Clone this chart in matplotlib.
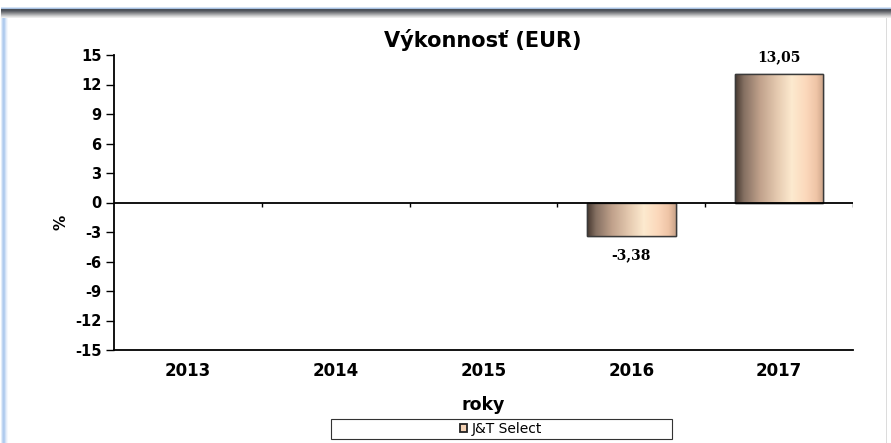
import numpy as np
import matplotlib
matplotlib.use('Agg')
from matplotlib import pyplot as plt
from matplotlib.colors import LinearSegmentedColormap
from matplotlib.patches import Rectangle

years = ['2013', '2014', '2015', '2016', '2017']
values = [np.nan, np.nan, np.nan, -3.38, 13.05]
value_labels = ['', '', '', '-3,38', '13,05']
y_ticks = [15, 12, 9, 6, 3, 0, -3, -6, -9, -12, -15]
series_name = 'J&T Select'

W, H = 891, 443
fig = plt.figure(figsize=(W / 100, H / 100), dpi=100)
fig.patch.set_facecolor('white')

# window frame: blue glow on the left, grey bar on the top
for i, c in enumerate(['#e3edf9', '#c2d7f2', '#b0cbee', '#b6cfef', '#cfe0f6', '#e6eefa', '#f5f8fd']):
    fig.patches.append(Rectangle((i + 1, 0), 1, H - 9, transform=None,
                                 facecolor=c, edgecolor='none'))
fig.patches.append(Rectangle((W - 5, 0), 1, H - 9, transform=None,
                             facecolor='#dcdcdc', edgecolor='none'))
for i, c in enumerate(['#d6e4f5', '#a9c2e2', '#4b5058', '#50545b', '#63666c',
                       '#7a7c80', '#929396', '#aaabad', '#c3c4c5', '#dadada',
                       '#ececec']):
    fig.patches.append(Rectangle((1, H - 8 - i), W, 1, transform=None,
                                 facecolor=c, edgecolor='none'))

ax = fig.add_axes([114 / W, 93 / H, (853 - 114) / W, (350 - 55) / H])
ax.set_facecolor('none')

x = np.arange(len(years))
bars = ax.bar(x, values, width=0.6, color='#f4d2b4', edgecolor='#3a3a3a',
              linewidth=1.0, zorder=2)

# horizontal shading of the bars
shade = LinearSegmentedColormap.from_list('shade', [
    (0.0, '#45372f'), (0.1, '#857062'), (0.28, '#c0a18b'), (0.48, '#e6cbb1'),
    (0.64, '#fdeacf'), (0.8, '#fbd8bb'), (0.92, '#efc4a6'), (1.0, '#c9a389')])
grad = np.linspace(0, 1, 256).reshape(1, -1)
for b in bars:
    h = b.get_height()
    if np.isnan(h):
        continue
    x0, w = b.get_x(), b.get_width()
    im = ax.imshow(grad, cmap=shade, aspect='auto', zorder=2.5,
                   extent=(x0, x0 + w, min(0, h), max(0, h)))
    im.set_clip_path(b)
    edge = Rectangle((x0, min(0, h)), w, abs(h), facecolor='none',
                     edgecolor='#3a3a3a', linewidth=1.0, zorder=3)
    ax.add_patch(edge)

for xi, v, lab in zip(x, values, value_labels):
    if np.isnan(v):
        continue
    off = 1.0 if v > 0 else -1.25
    ax.text(xi, v + off, lab, ha='center', va='bottom' if v > 0 else 'top',
            fontsize=10, fontweight='bold', family='DejaVu Serif')

ax.set_xlim(-0.5, len(years) - 0.5)
ax.set_ylim(-15, 15)
ax.set_yticks(y_ticks)
ax.set_yticklabels([str(t) for t in y_ticks], fontsize=10.5, fontweight='bold',
                   family='DejaVu Sans')
ax.tick_params(axis='y', direction='out', length=6, width=1, pad=3)
ax.set_xticks(x)
ax.set_xticklabels(years, fontsize=12, fontweight='bold', family='DejaVu Sans')
ax.tick_params(axis='x', length=0, pad=9)

ax.axhline(0, color='black', linewidth=1.3, zorder=4)
ax.vlines(np.arange(len(years)) + 0.5, -0.45, 0, color='black', linewidth=1,
          zorder=4)

for s in ['top', 'right']:
    ax.spines[s].set_visible(False)
ax.spines['left'].set_linewidth(1.3)
ax.spines['bottom'].set_linewidth(1.3)

ax.set_ylabel('%', fontsize=11, fontweight='bold', family='DejaVu Sans')
ax.yaxis.set_label_coords((69 - 114) / (853 - 114), (350 - 222) / (350 - 55))
ax.set_xlabel('roky', fontsize=12.5, fontweight='bold', family='DejaVu Sans')
ax.xaxis.set_label_coords(0.5, (350 - 396) / (350 - 55))
fig.text(483 / W, 1 - 40 / H, 'Výkonnosť (EUR)', ha='center', va='center',
         fontsize=15, fontweight='bold', family='DejaVu Sans')

# legend box spanning under the plot, entry centred inside
fig.patches.append(Rectangle((331, H - 439), 672 - 331, 20, transform=None,
                             facecolor='none', edgecolor='#333333',
                             linewidth=0.8))
leg = ax.legend([Rectangle((0, 0), 1, 1, facecolor='#f4d2b4',
                           edgecolor='#222222', linewidth=1.3)],
                [series_name], loc='center',
                bbox_to_anchor=(501 / W, 1 - 429 / H),
                bbox_transform=fig.transFigure,
                frameon=False, borderaxespad=0,
                prop={'family': 'DejaVu Sans', 'size': 10},
                handlelength=0.5, handleheight=0.5, handletextpad=0.3,
                borderpad=0.1)

fig.savefig('out.png', dpi=100)
